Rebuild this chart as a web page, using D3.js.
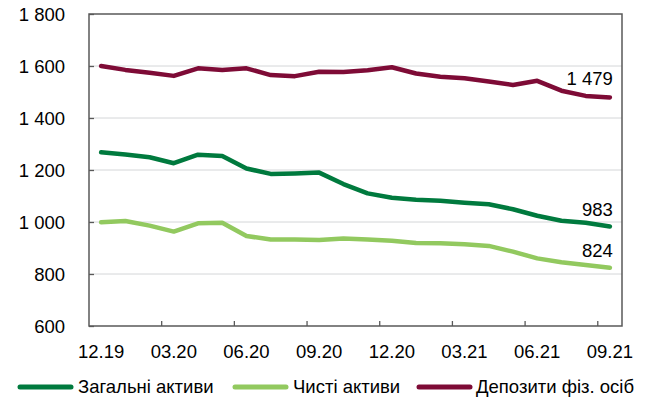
<!DOCTYPE html>
<html>
<head>
<meta charset="utf-8">
<script src="https://cdn.jsdelivr.net/npm/d3@7"></script>
<style>
  html, body { margin: 0; padding: 0; background: #fff; }
  svg { display: block; font-family: "Liberation Sans", Arial, sans-serif; }
</style>
</head>
<body>
<svg id="chart" width="651" height="397"></svg>
<script>
// Monthly periods, 12.2019 – 09.2021
const months = ["12.19","01.20","02.20","03.20","04.20","05.20","06.20","07.20","08.20","09.20","10.20","11.20",
                "12.20","01.21","02.21","03.21","04.21","05.21","06.21","07.21","08.21","09.21"];

// Series values
const totalAssets = [1268,1260,1249,1226,1259,1254,1206,1185,1187,1190,1146,1110,
                     1093,1086,1082,1074,1068,1049,1024,1005,997,983];
const netAssets   = [999,1004,986,963,995,997,946,933,933,931,937,933,
                     928,919,918,914,908,886,860,845,835,824];
const deposits    = [1600,1585,1574,1562,1591,1585,1591,1565,1561,1578,1577,1584,
                     1595,1571,1559,1553,1540,1527,1543,1505,1485,1479];

// Axis ticks
const yTicks = [600, 800, 1000, 1200, 1400, 1600, 1800];
const xLabels = ["12.19","03.20","06.20","09.20","12.20","03.21","06.21","09.21"];

const seriesNames = ["Загальні активи", "Чисті активи", "Депозити фіз. осіб"];
const seriesColors = ["#007a3e", "#92c95f", "#7e0b36"];
const seriesData = [totalAssets, netAssets, deposits];

const svg = d3.select("#chart");
const plot = { left: 89, right: 622, top: 14, bottom: 326 };

const x = d3.scaleBand().domain(months).range([plot.left, plot.right]);
const y = d3.scaleLinear().domain([600, 1800]).range([plot.bottom, plot.top]);
const fmt = v => d3.format(",")(v).replace(/,/g, " ");

// Horizontal grid lines
svg.append("g").selectAll("line")
  .data(yTicks.filter(t => t > 600 && t < 1800))
  .join("line")
  .attr("x1", plot.left).attr("x2", plot.right)
  .attr("y1", d => y(d)).attr("y2", d => y(d))
  .attr("stroke", "#d4d6d8").attr("stroke-width", 1);

// Y axis: inward ticks and labels
const yAxis = svg.append("g")
  .attr("transform", `translate(${plot.left},0)`)
  .call(d3.axisRight(y).tickValues(yTicks).tickSize(5).tickFormat(""));
yAxis.select(".domain").remove();
yAxis.selectAll("line").attr("stroke", "#595959").attr("stroke-width", 1.3);

svg.append("g").selectAll("text")
  .data(yTicks)
  .join("text")
  .attr("x", 65).attr("y", d => y(d) + 6.5)
  .attr("text-anchor", "end")
  .attr("font-size", 18.5).attr("fill", "#000")
  .text(fmt);

// X axis: ticks at quarter boundaries, labels under quarter-end months
const boundaryIdx = d3.range(3, months.length, 3);
svg.append("g").selectAll("line")
  .data(boundaryIdx)
  .join("line")
  .attr("x1", i => x(months[i])).attr("x2", i => x(months[i]))
  .attr("y1", plot.bottom).attr("y2", plot.bottom - 5)
  .attr("stroke", "#595959").attr("stroke-width", 1.3);

svg.append("g").selectAll("text")
  .data(xLabels)
  .join("text")
  .attr("x", d => x(d) + x.bandwidth() / 2)
  .attr("y", 358)
  .attr("text-anchor", "middle")
  .attr("font-size", 18.5).attr("fill", "#000")
  .text(d => d);

// Plot frame
svg.append("rect")
  .attr("x", plot.left).attr("y", plot.top)
  .attr("width", plot.right - plot.left).attr("height", plot.bottom - plot.top)
  .attr("fill", "none").attr("stroke", "#595959").attr("stroke-width", 1.5);

// Series lines
const line = d3.line()
  .x((d, i) => x(months[i]) + x.bandwidth() / 2)
  .y(d => y(d));

seriesData.forEach((vals, k) => {
  svg.append("path")
    .datum(vals)
    .attr("d", line)
    .attr("fill", "none")
    .attr("stroke", seriesColors[k])
    .attr("stroke-width", 4.5)
    .attr("stroke-linejoin", "round")
    .attr("stroke-linecap", "round");
});

// End-value labels
const lastIdx = months.length - 1;
const lastX = x(months[lastIdx]) + x.bandwidth() / 2;
seriesData.forEach((vals, k) => {
  const v = vals[lastIdx];
  svg.append("text")
    .attr("x", lastX + 3)
    .attr("y", y(v) - (k === 2 ? 12.5 : 10.5))
    .attr("text-anchor", "end")
    .attr("font-size", 18.5).attr("fill", "#000")
    .text(fmt(v));
});

// Legend
const legendItems = [
  { x1: 18, x2: 73, tx: 78 },
  { x1: 233, x2: 288, tx: 293 },
  { x1: 417, x2: 472, tx: 476 }
];
legendItems.forEach((it, k) => {
  svg.append("line")
    .attr("x1", it.x1 + 2).attr("x2", it.x2 - 2)
    .attr("y1", 387).attr("y2", 387)
    .attr("stroke", seriesColors[k]).attr("stroke-width", 5)
    .attr("stroke-linecap", "round");
  svg.append("text")
    .attr("x", it.tx).attr("y", 393)
    .attr("font-size", 18.5).attr("fill", "#000")
    .text(seriesNames[k]);
});
</script>
</body>
</html>
